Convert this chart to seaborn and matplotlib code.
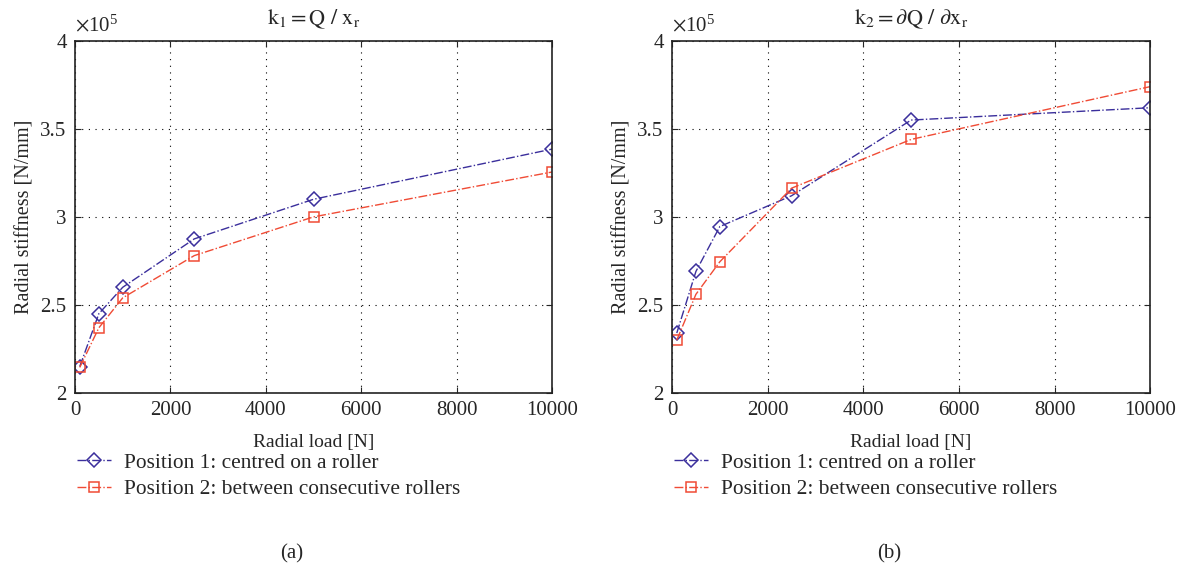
import numpy as np
import pandas as pd
import seaborn as sns
import matplotlib.pyplot as plt

# Données (rigidité en x10^5 N/mm)
charge = [100, 500, 1000, 2500, 5000, 10000]
k1_pos1 = [2.15, 2.45, 2.60, 2.875, 3.10, 3.385]
k1_pos2 = [2.145, 2.37, 2.54, 2.78, 3.00, 3.255]
k2_pos1 = [2.34, 2.69, 2.945, 3.12, 3.55, 3.62]
k2_pos2 = [2.30, 2.56, 2.745, 3.163, 3.44, 3.74]

titres = [r'$\mathrm{k_1 = Q\ /\ x_r}$', r'$\mathrm{k_2 = \partial Q\ /\ \partial x_r}$']
legendes = ['Position 1: centred on a roller', 'Position 2: between consecutive rollers']
lettres = ['(a)', '(b)']
bleu = '#3b2f9c'
rouge = '#f04b35'

sns.set_style('ticks')
plt.rcParams['font.family'] = ['Liberation Serif', 'DejaVu Serif']
plt.rcParams['mathtext.fontset'] = 'stix'

fig = plt.figure(figsize=(11.81, 5.67), dpi=100)
positions = [[0.0635, 0.307, 0.404, 0.621], [0.569, 0.307, 0.405, 0.621]]
series = [(k1_pos1, k1_pos2), (k2_pos1, k2_pos2)]

for i in range(2):
    ax = fig.add_axes(positions[i])
    df = pd.DataFrame({'charge': charge, 'p1': series[i][0], 'p2': series[i][1]})
    sns.lineplot(data=df, x='charge', y='p1', ax=ax, color=bleu, linestyle='-.', lw=1,
                 marker='D', markersize=7, markerfacecolor='none', markeredgecolor=bleu,
                 markeredgewidth=1.1, label=legendes[0])
    sns.lineplot(data=df, x='charge', y='p2', ax=ax, color=rouge, linestyle='-.', lw=1,
                 marker='s', markersize=6.5, markerfacecolor='none', markeredgecolor=rouge,
                 markeredgewidth=1.1, label=legendes[1])
    ax.set_xlim(0, 10000)
    ax.set_ylim(2, 4)
    ax.set_xticks([0, 2000, 4000, 6000, 8000, 10000])
    ax.set_yticks([2, 2.5, 3, 3.5, 4])
    ax.set_yticklabels(['2', '2.5', '3', '3.5', '4'])
    ax.tick_params(direction='in', top=True, right=True, labelsize=15, length=4, pad=6)
    ax.grid(True, linestyle=(0, (1, 5)), color='black', lw=0.8)
    for s in ax.spines.values():
        s.set_linewidth(1.2)
        s.set_color('#222222')
    ax.set_xlabel('Radial load [N]', fontsize=14, labelpad=10)
    ax.set_ylabel('Radial stiffness [N/mm]', fontsize=14.5, labelpad=4)
    ax.set_title(titres[i], fontsize=16, pad=12)
    ax.text(0.0, 1.012, r'$\times\mathregular{10^5}$', transform=ax.transAxes, fontsize=15,
            ha='left', va='bottom')
    ax.legend(loc='upper left', bbox_to_anchor=(-0.036, -0.115), frameon=False, fontsize=15.4,
              handlelength=1.6, handletextpad=0.6, labelspacing=0.3)
    ax.text(0.455, -0.43, lettres[i], transform=ax.transAxes, fontsize=15, ha='center', va='top')

fig.savefig('out.png', dpi=100)
